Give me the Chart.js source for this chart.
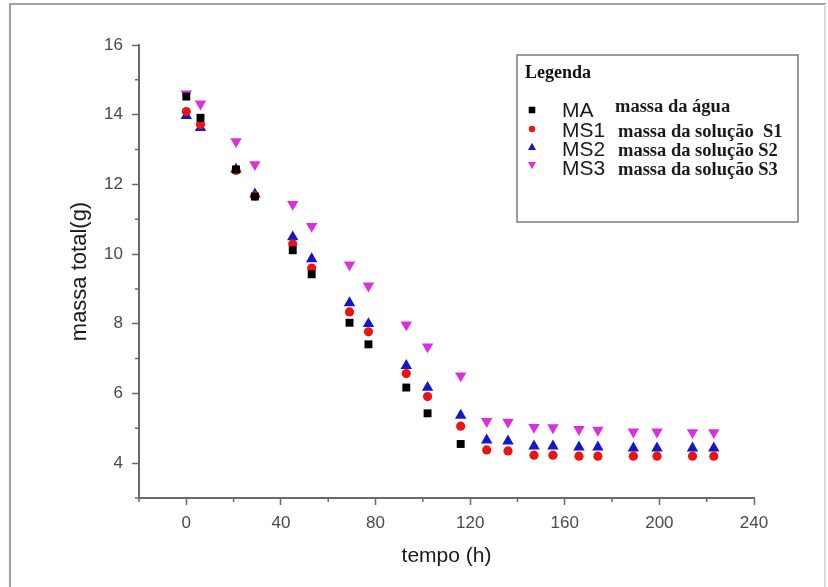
<!DOCTYPE html>
<html>
<head>
<meta charset="utf-8">
<title>massa total x tempo</title>
<script src="https://cdn.jsdelivr.net/npm/chart.js@4.4.1/dist/chart.umd.min.js"></script>
<style>
  html, body { margin: 0; padding: 0; background: #fff; }
  #wrap { position: relative; width: 828px; height: 587px; }
</style>
</head>
<body>
<div id="wrap"><canvas id="massChart" width="828" height="587"></canvas></div>
<script>
// time of each weighing (h)
const tempo = [0, 6, 21, 29, 45, 53, 69, 77, 93, 102, 116, 127, 136, 147, 155, 166, 174, 189, 199, 214, 223];

// total mass (g) for each sample; water series has no readings after 116 h
const massaMA  = [14.52, 13.91, 12.43, 11.65, 10.11, 9.42, 8.03, 7.41, 6.17, 5.43, 4.55, null, null, null, null, null, null, null, null, null, null];
const massaMS1 = [14.09, 13.72, 12.40, 11.67, 10.29, 9.60, 8.34, 7.77, 6.57, 5.91, 5.06, 4.38, 4.35, 4.23, 4.23, 4.2, 4.2, 4.2, 4.2, 4.2, 4.2];
const massaMS2 = [13.97, 13.63, 12.43, 11.72, 10.49, 9.86, 8.60, 8.00, 6.80, 6.17, 5.37, 4.66, 4.63, 4.49, 4.49, 4.46, 4.46, 4.43, 4.43, 4.43, 4.43];
const massaMS3 = [14.60, 14.31, 13.23, 12.57, 11.43, 10.80, 9.69, 9.09, 7.97, 7.34, 6.51, 5.20, 5.18, 5.03, 5.02, 4.97, 4.95, 4.90, 4.90, 4.88, 4.88];

const seriesNames = ['MA', 'MS1', 'MS2', 'MS3'];
const seriesDesc = ['massa da água', 'massa da solução  S1', 'massa da solução S2', 'massa da solução S3'];
const legendTitle = 'Legenda';

const xTitle = 'tempo (h)';
const yTitle = 'massa total(g)';

const AXIS_COLOR = '#6a6a6a';
const TICK_FONT = "'Liberation Sans', Arial, sans-serif";
const LEGEND_SERIF = "'Liberation Serif', 'Times New Roman', serif";

function toPoints(values) {
    return tempo.map((t, i) => ({ x: t, y: values[i] })).filter(p => p.y !== null);
}

function makeDataset(label, values, color, style, radius, rotation) {
    return {
        label: label,
        data: toPoints(values),
        pointStyle: style,
        pointRadius: radius,
        pointHoverRadius: radius,
        pointRotation: rotation || 0,
        backgroundColor: color,
        borderColor: color,
        borderWidth: 0,
        showLine: false
    };
}

// outer grey frame of the figure
const framePlugin = {
    id: 'frame',
    beforeDraw(chart) {
        const ctx = chart.ctx;
        ctx.save();
        ctx.strokeStyle = '#a0a0a0';
        ctx.lineWidth = 2;
        ctx.beginPath();
        ctx.moveTo(10, 587);
        ctx.lineTo(10, 4);
        ctx.lineTo(826, 4);
        ctx.stroke();
        ctx.strokeStyle = '#dcdcdc';
        ctx.beginPath();
        ctx.moveTo(825, 4);
        ctx.lineTo(825, 587);
        ctx.stroke();
        ctx.restore();
    }
};

// short ticks for the unlabeled (minor) positions
const minorTicksPlugin = {
    id: 'minorTicks',
    afterDraw(chart) {
        const ctx = chart.ctx;
        const xs = chart.scales.x, ys = chart.scales.y;
        ctx.save();
        ctx.strokeStyle = AXIS_COLOR;
        ctx.lineWidth = 1.5;
        ctx.beginPath();
        xs.ticks.forEach(t => {
            if (t.value % 40 !== 0) {
                const px = xs.getPixelForValue(t.value);
                ctx.moveTo(px, xs.top);
                ctx.lineTo(px, xs.top + 4);
            }
        });
        ys.ticks.forEach(t => {
            if (t.value % 2 !== 0) {
                const py = ys.getPixelForValue(t.value);
                ctx.moveTo(ys.right, py);
                ctx.lineTo(ys.right - 4, py);
            }
        });
        ctx.stroke();
        ctx.restore();
    }
};

function drawMarker(ctx, style, rotation, x, y, r) {
    ctx.beginPath();
    if (style === 'rect') {
        ctx.rect(x - r, y - r, 2 * r, 2 * r);
    } else if (style === 'circle') {
        ctx.arc(x, y, r, 0, Math.PI * 2);
    } else {
        const dir = rotation === 180 ? -1 : 1;
        ctx.moveTo(x, y - dir * r);
        ctx.lineTo(x + r * 0.95, y + dir * r * 0.7);
        ctx.lineTo(x - r * 0.95, y + dir * r * 0.7);
        ctx.closePath();
    }
    ctx.fill();
}

// boxed legend inside the plot, drawn from the datasets
const boxLegendPlugin = {
    id: 'boxLegend',
    afterDraw(chart) {
        const ctx = chart.ctx;
        const box = { left: 517, top: 55, right: 798, bottom: 222 };
        ctx.save();
        ctx.fillStyle = '#fff';
        ctx.fillRect(box.left, box.top, box.right - box.left, box.bottom - box.top);
        ctx.strokeStyle = '#7a7a7a';
        ctx.lineWidth = 1.5;
        ctx.strokeRect(box.left, box.top, box.right - box.left, box.bottom - box.top);

        ctx.fillStyle = '#111';
        ctx.textBaseline = 'alphabetic';
        ctx.font = 'bold 18px ' + LEGEND_SERIF;
        ctx.fillText(legendTitle, 525, 78);

        const markerY = [110, 129, 147, 165];
        const nameY = [117, 137, 156, 175];
        const descY = [112, 137, 156, 175];
        chart.data.datasets.forEach((ds, i) => {
            ctx.fillStyle = ds.backgroundColor;
            const r = ds.pointStyle === 'rect' ? 3.3 : (ds.pointStyle === 'circle' ? 3.2 : 4.2);
            drawMarker(ctx, ds.pointStyle, ds.pointRotation, 532, markerY[i], r);
            ctx.fillStyle = '#1a1a1a';
            ctx.font = '21px ' + TICK_FONT;
            ctx.fillText(seriesNames[i], 562, nameY[i]);
            ctx.font = 'bold 18.5px ' + LEGEND_SERIF;
            ctx.fillText(seriesDesc[i], i === 0 ? 615 : 618, descY[i]);
        });
        ctx.restore();
    }
};

function createMassChart() {
    const ctx = document.getElementById('massChart').getContext('2d');
    return new Chart(ctx, {
        type: 'scatter',
        data: {
            datasets: [
                makeDataset(seriesNames[0], massaMA, '#000000', 'rect', 5.6),
                makeDataset(seriesNames[1], massaMS1, '#e81515', 'circle', 4.6),
                makeDataset(seriesNames[2], massaMS2, '#1616c8', 'triangle', 6.6),
                makeDataset(seriesNames[3], massaMS3, '#dc30dc', 'triangle', 6.6, 180)
            ]
        },
        options: {
            responsive: false,
            animation: false,
            layout: { padding: { left: 0, top: 45, right: 74, bottom: 0 } },
            plugins: {
                legend: { display: false },
                tooltip: { enabled: false }
            },
            scales: {
                x: {
                    type: 'linear',
                    min: -20,
                    max: 240,
                    afterFit: scale => { scale.height = 587 - 498; },
                    border: { display: true, color: AXIS_COLOR, width: 2 },
                    grid: {
                        drawOnChartArea: false,
                        drawTicks: true,
                        tickLength: 7,
                        tickWidth: 1.5,
                        tickColor: c => (c.tick && c.tick.value % 40 === 0) ? AXIS_COLOR : 'rgba(0,0,0,0)'
                    },
                    ticks: {
                        stepSize: 20,
                        autoSkip: false,
                        maxRotation: 0,
                        padding: 8,
                        color: '#4a4a4a',
                        font: { family: TICK_FONT, size: 17 },
                        callback: v => (v % 40 === 0 ? v : '')
                    },
                    title: {
                        display: true,
                        text: xTitle,
                        color: '#1a1a1a',
                        font: { family: TICK_FONT, size: 21 },
                        padding: { top: 0, bottom: 18 }
                    }
                },
                y: {
                    type: 'linear',
                    min: 3,
                    max: 16,
                    afterFit: scale => { scale.width = 139; },
                    border: { display: true, color: AXIS_COLOR, width: 2 },
                    grid: {
                        drawOnChartArea: false,
                        drawTicks: true,
                        tickLength: 7,
                        tickWidth: 1.5,
                        tickColor: c => (c.tick && c.tick.value % 2 === 0) ? AXIS_COLOR : 'rgba(0,0,0,0)'
                    },
                    ticks: {
                        stepSize: 1,
                        autoSkip: false,
                        padding: 9,
                        color: '#4a4a4a',
                        font: { family: TICK_FONT, size: 17 },
                        callback: v => (v % 2 === 0 ? v : '')
                    },
                    title: {
                        display: true,
                        text: yTitle,
                        color: '#1a1a1a',
                        font: { family: TICK_FONT, size: 22 },
                        padding: { top: 67, bottom: 0 }
                    }
                }
            }
        },
        plugins: [framePlugin, minorTicksPlugin, boxLegendPlugin]
    });
}

createMassChart();
</script>
</body>
</html>
